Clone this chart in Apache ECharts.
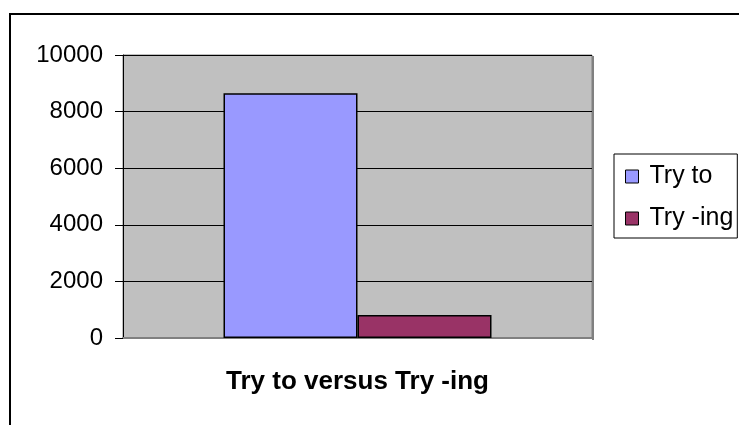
<!DOCTYPE html>
<html>
<head>
<meta charset="utf-8">
<script src="https://cdn.jsdelivr.net/npm/echarts@6/dist/echarts.min.js"></script>
<style>
  html, body { margin: 0; padding: 0; background: #fff; }
  #main { width: 739px; height: 425px; }
</style>
</head>
<body>
<div id="main"></div>
<script>
// 数据
var categories = ['Try to versus Try -ing'];
var seriesNames = ['Try to', 'Try -ing'];
var tryToValues = [8650];
var tryIngValues = [810];
var yTicks = [0, 2000, 4000, 6000, 8000, 10000];

var chart = echarts.init(document.getElementById('main'));
var font = '"Liberation Sans", Arial, sans-serif';

var option = {
    animation: false,
    backgroundColor: '#fff',
    // 外框（上边和左边）
    graphic: [
        { type: 'line', shape: { x1: 9, y1: 14, x2: 739, y2: 14 }, style: { stroke: '#000', lineWidth: 2 } },
        { type: 'line', shape: { x1: 10, y1: 13, x2: 10, y2: 425 }, style: { stroke: '#000', lineWidth: 2 } },
        // 绘图区右侧的阴影边
        { type: 'line', shape: { x1: 593, y1: 56, x2: 593, y2: 340 }, style: { stroke: '#808080', lineWidth: 2 } }
    ],
    grid: {
        left: 123,
        right: 147,
        top: 55,
        bottom: 87,
        show: true,
        backgroundColor: '#C0C0C0',
        borderColor: '#808080',
        borderWidth: 1
    },
    legend: {
        orient: 'vertical',
        left: 614,
        top: 154,
        data: seriesNames,
        borderColor: '#000',
        borderWidth: 1,
        padding: [10, 4, 7, 11],
        itemWidth: 13,
        itemHeight: 13,
        itemGap: 17,
        icon: 'rect',
        itemStyle: { borderColor: '#000', borderWidth: 1 },
        textStyle: { fontFamily: font, fontSize: 25, color: '#000', padding: [0, 0, 0, 6] }
    },
    xAxis: {
        type: 'category',
        data: categories,
        axisLine: { show: true, lineStyle: { color: '#808080', width: 2 } },
        axisTick: { show: false },
        axisLabel: { fontFamily: font, fontSize: 26, fontWeight: 'bold', color: '#000', margin: 31 }
    },
    yAxis: {
        type: 'value',
        min: yTicks[0],
        max: yTicks[yTicks.length - 1],
        interval: 2000,
        axisLine: { show: true, lineStyle: { color: '#000', width: 1 } },
        axisTick: { show: true, length: 8, lineStyle: { color: '#000' } },
        splitLine: { show: true, lineStyle: { color: '#000', width: 1 } },
        axisLabel: {
            fontFamily: font, fontSize: 24, color: '#000', margin: 20,
            formatter: function (v) { return String(v); }
        }
    },
    series: [
        {
            name: seriesNames[0],
            type: 'bar',
            data: tryToValues,
            barWidth: 134,
            barGap: '0%',
            itemStyle: { color: '#9999FF', borderColor: '#000', borderWidth: 1.5 }
        },
        {
            name: seriesNames[1],
            type: 'bar',
            data: tryIngValues,
            barWidth: 134,
            barGap: '0%',
            itemStyle: { color: '#993366', borderColor: '#000', borderWidth: 1.5 }
        }
    ]
};
chart.setOption(option);
</script>
</body>
</html>
